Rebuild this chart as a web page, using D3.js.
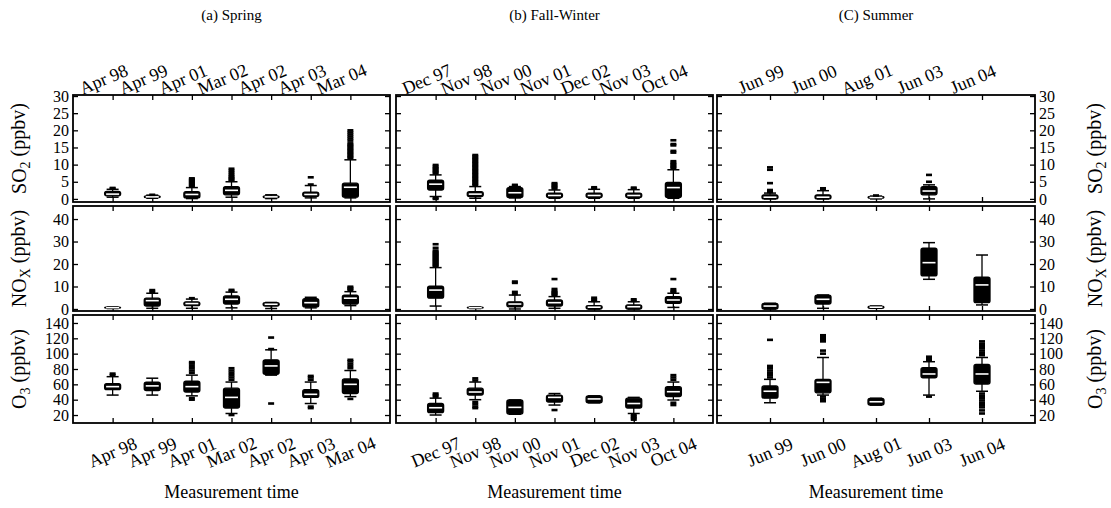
<!DOCTYPE html>
<html><head><meta charset="utf-8">
<script src="https://cdn.jsdelivr.net/npm/d3@7"></script>
<style>
html,body{margin:0;padding:0;background:#fff;}
svg{display:block;}
text{font-family:"Liberation Serif","DejaVu Serif","Times New Roman",serif;fill:#000;}
</style></head>
<body>
<svg id="c" width="1111" height="508"></svg>
<script>
// ---------- DATA ----------
const springDates = ["Apr 98","Apr 99","Apr 01","Mar 02","Apr 02","Apr 03","Mar 04"];
const fallDates   = ["Dec 97","Nov 98","Nov 00","Nov 01","Dec 02","Nov 03","Oct 04"];
const summerDates = ["Jun 99","Jun 00","Aug 01","Jun 03","Jun 04"];

// [lower whisker, Q1, median, Q3, upper whisker]
const springSO2 = [[0.5,0.9,1.4,2.2,2.8],[0.2,0.4,0.6,0.9,1.1],[0.1,0.3,1.3,2.1,3.3],[0.5,1.2,2.5,3.6,5.0],[0.1,0.3,0.6,0.9,1.2],[0.3,0.7,1.3,2.0,3.9],[0.3,0.5,3.4,4.6,11.4]];
const springSO2Out = [[3.0,3.2],[1.2],[3.6,3.9,4.2,4.5,4.8,5.1,5.4,5.7,6.0],[5.3,5.7,6.1,6.5,7.0,7.6,8.2,8.8],[],[4.2,6.3],[11.8,12.2,12.6,13.0,13.4,13.8,14.2,14.6,15.0,15.4,15.8,16.2,17.0,17.6,18.2,18.8,19.4,20.0]];
const springNOx = [[0.2,0.4,0.6,0.8,1.0],[0.3,1.3,3.7,4.8,7.0],[0.3,1.5,2.4,3.2,4.4],[0.5,2.2,4.3,5.8,7.5],[0.2,1.3,2.1,2.8,2.9],[0.5,0.9,2.8,4.6,5.2],[1.5,2.2,4.8,6.2,7.7]];
const springNOxOut = [[],[7.6,8.4],[4.8],[8.0,8.5],[],[],[8.3,8.9,9.4,9.9]];
const springO3 = [[46,53,57,61,70],[46,52,58,63,68],[45,50,57,64,72],[22,29,43,55,63],[72,73,84,92,105],[35,43,47,53,63],[44,48,60,67,78]];
const springO3Out = [[72,74],[],[75,78,81,84,87,89,42,40],[66,69,72,75,78,81,20],[106,121,35],[66,69,71,31,29],[81,84,87,90,92,41]];

const fallSO2 = [[0.7,2.6,4.3,5.5,7.0],[0.2,0.7,1.4,2.1,3.6],[0.3,0.4,1.8,3.3,3.6],[0.2,0.4,1.0,1.7,2.6],[0.2,0.4,1.0,1.7,2.8],[0.2,0.4,1.0,1.7,2.7],[0.2,0.4,3.3,4.8,8.5]];
const fallSO2Out = [[7.4,7.8,8.2,8.6,9.0,9.4,9.9,0.3,0.0],[4.0,4.4,4.8,5.2,5.6,6.0,6.4,6.8,7.2,7.6,8.0,8.4,8.8,9.2,9.6,10.0,10.4,10.8,11.2,11.6,12.0,12.4,12.8],[3.9,4.1],[3.0,3.4,3.8,4.2,4.6],[3.1,3.4],[3.0,3.3],[8.9,9.3,9.7,10.1,10.5,11.0,13.5,14.0,15.6,16.0,17.1]];
const fallNOx = [[1.3,4.8,8.4,10.2,18.4],[0.2,0.4,0.6,0.8,1.0],[0.0,1.0,2.2,3.2,6.2],[0.3,1.3,2.8,4.0,5.5],[0.0,0.0,0.8,1.5,3.2],[0.0,0.0,1.0,1.8,3.2],[0.7,2.5,4.0,5.5,7.0]];
const fallNOxOut = [[18.9,19.4,19.9,20.4,20.9,21.4,21.9,22.4,22.9,23.4,23.9,24.4,24.9,25.4,26.0,27.2,28.8],[],[6.6,7.6,11.6,12.2],[6.0,6.5,7.0,7.5,8.0,8.9,13.3],[3.6,4.2,5.0],[3.6,4.3],[7.5,8.0,8.8,13.3]];
const fallO3 = [[20,23,29.5,35,42],[40,46,50,55,63],[21,21.3,30,39.6,39.6],[33,37,43,46,48],[36,36,41,45,45],[22,29,35,42,43],[39.6,44,50.4,57,63]];
const fallO3Out = [[44,46,48],[65,67.8,37,34,31,29],[],[26.5],[],[20,18,16,14],[66,69,72,36,33]];

const summerSO2 = [[0.0,0.0,0.5,1.2,1.7],[0.0,0.0,0.5,1.2,2.4],[0.0,0.2,0.4,0.7,0.8],[0.0,1.2,2.3,3.6,4.1],null];
const summerSO2Out = [[2.0,2.3,2.6,4.6,8.5,9.2],[2.8,3.1],[1.0],[5.0,7.0],[]];
const summerNOx = [[0.0,0.0,1.3,2.5,2.5],[0.3,2.2,4.3,6.2,6.2],[0.3,0.3,0.8,1.3,1.3],[13.2,14.7,20.6,27,29.5],[1.8,2.8,10.7,14.1,24]];
const summerNOxOut = [[],[],[],[],[]];
const summerO3 = [[36,42,51,58,66.5],[46,49,62.6,66.5,95],[33,33,37.3,41.8,41.8],[46,68.6,73.5,81.7,89.5],[51,60.4,73.5,86,95]];
const summerO3Out = [[69,72,75,78,81,84,118],[100,104,116,118,120,122,124,44,41,38],[],[92,94,96,44],[98,101,104,107,110,113,116,48,45,42,39,36,33,30,26,22]];

const so2Ticks = [0,5,10,15,20,25,30];
const noxTicks = [0,10,20,30,40];
const o3Ticks  = [20,40,60,80,100,120,140];

const panelTitles = ["(a)  Spring","(b) Fall-Winter","(C) Summer"];
const xTitle = "Measurement time";

// ---------- LAYOUT ----------
const FONT = '"Liberation Serif","DejaVu Serif","Times New Roman",serif';
const svg = d3.select("#c");
const cols = [
  {dates:springDates, stats:[springSO2,springNOx,springO3], outs:[springSO2Out,springNOxOut,springO3Out], x0:73, x1:390},
  {dates:fallDates, stats:[fallSO2,fallNOx,fallO3], outs:[fallSO2Out,fallNOxOut,fallO3Out], x0:396, x1:713},
  {dates:summerDates, stats:[summerSO2,summerNOx,summerO3], outs:[summerSO2Out,summerNOxOut,summerO3Out], x0:717, x1:1035}
];
const rows = [
  {y0:95, y1:202, domain:[-0.9,30.3], ticks:so2Ticks, label:["SO","2"," (ppbv)"]},
  {y0:206, y1:311, domain:[-0.9,45.8], ticks:noxTicks, label:["NO","X"," (ppbv)"]},
  {y0:315, y1:423, domain:[9.6,150.4], ticks:o3Ticks, label:["O","3"," (ppbv)"]}
];
const BW = 16, CAP = 12;

cols.forEach((col, ci) => {
  const x = d3.scalePoint().domain(col.dates).range([col.x0, col.x1]).padding(1);
  rows.forEach((row, ri) => {
    const y = d3.scaleLinear().domain(row.domain).range([row.y1, row.y0]);
    const g = svg.append("g");
    const mk = (axis, tx, ty, labels) => {
      const a = g.append("g").attr("transform", `translate(${tx},${ty})`).call(axis);
      a.attr("font-family", FONT);
      a.select(".domain").remove();
      a.selectAll("line").attr("stroke","#000").attr("stroke-width",1.3);
      a.selectAll("text").style("font-family",FONT).style("font-size","16px").attr("fill","#000");
      if (!labels) a.selectAll("text").remove();
      return a;
    };
    mk(d3.axisLeft(y).tickValues(row.ticks).tickSizeInner(-5).tickSizeOuter(0).tickPadding(4), col.x0, 0, ci === 0);
    mk(d3.axisRight(y).tickValues(row.ticks).tickSizeInner(-5).tickSizeOuter(0).tickPadding(4), col.x1, 0, ci === 2);
    mk(d3.axisTop(x).tickSizeInner(-5).tickSizeOuter(0), 0, row.y0, false);
    mk(d3.axisBottom(x).tickSizeInner(-5).tickSizeOuter(0), 0, row.y1, false);
    g.append("rect").attr("x", col.x0).attr("y", row.y0)
      .attr("width", col.x1 - col.x0).attr("height", row.y1 - row.y0)
      .attr("fill","none").attr("stroke","#000").attr("stroke-width",1.8);

    const stats = col.stats[ri], outs = col.outs[ri];
    col.dates.forEach((d, i) => {
      const s = stats[i];
      const cx = x(d);
      if (s) {
        const [lo,q1,md,q3,hi] = s;
        g.append("line").attr("x1",cx).attr("x2",cx).attr("y1",y(hi)).attr("y2",y(q3)).attr("stroke","#000").attr("stroke-width",1.3);
        g.append("line").attr("x1",cx).attr("x2",cx).attr("y1",y(q1)).attr("y2",y(lo)).attr("stroke","#000").attr("stroke-width",1.3);
        [hi,lo].forEach(v => g.append("line").attr("x1",cx-CAP/2).attr("x2",cx+CAP/2).attr("y1",y(v)).attr("y2",y(v)).attr("stroke","#000").attr("stroke-width",1.5));
        g.append("rect").attr("x",cx-BW/2).attr("width",BW).attr("y",y(q3)).attr("height",Math.max(y(q1)-y(q3),0.5))
          .attr("rx",2).attr("fill","#000").attr("stroke","#000").attr("stroke-width",1.3);
        g.append("line").attr("x1",cx-BW/2+1.5).attr("x2",cx+BW/2-1.5).attr("y1",y(md)).attr("y2",y(md)).attr("stroke","#fff").attr("stroke-width",1.6);
      }
      (outs[i] || []).forEach(v => {
        g.append("rect").attr("x",cx-3).attr("width",6).attr("y",y(v)-1.3).attr("height",2.6).attr("fill","#000");
      });
    });

    const addYTitle = (tx) => {
      const t = svg.append("text")
        .attr("transform", `translate(${tx},${(row.y0+row.y1)/2}) rotate(-90)`)
        .attr("text-anchor","middle").attr("dy","0.35em").style("font-size","20px");
      t.append("tspan").text(row.label[0]);
      t.append("tspan").text(row.label[1]).style("font-size","14px").attr("dy","0.3em");
      t.append("tspan").text(row.label[2]).attr("dy","-0.25em");
    };
    if (ci === 0) addYTitle(19);
    if (ci === 2) addYTitle(1095);
  });

  col.dates.forEach(d => {
    svg.append("text").attr("transform", `translate(${x(d)-9},${79}) rotate(-23)`)
      .attr("text-anchor","middle").attr("dy","0.35em").style("font-size","18px").text(d);
    svg.append("text").attr("transform", `translate(${x(d)},${452}) rotate(-23)`)
      .attr("text-anchor","middle").attr("dy","0.35em").style("font-size","18px").text(d);
  });
  const cxm = (col.x0 + col.x1) / 2;
  svg.append("text").attr("x", cxm).attr("y", 20).attr("text-anchor","middle").style("font-size","15px").text(panelTitles[ci]);
  svg.append("text").attr("x", cxm).attr("y", 498).attr("text-anchor","middle").style("font-size","18px").text(xTitle);
});
</script>
</body></html>
